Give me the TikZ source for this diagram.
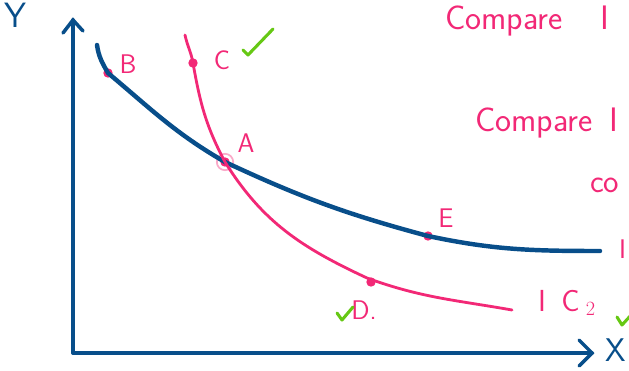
\documentclass[tikz,border=0pt]{standalone}
\usepackage{xcolor}
\usepackage{tikz}
\usetikzlibrary{arrows.meta}
\definecolor{inkblue}{RGB}{8,78,138}
\definecolor{inkpink}{RGB}{242,40,118}
\definecolor{inkgreen}{RGB}{102,200,20}

\begin{document}
\begin{tikzpicture}[x=0.03cm, y=-0.03cm,
  every node/.style={inner sep=0pt},
  axis/.style={inkblue, line width=3pt, line cap=round},
  icone/.style={inkblue, line width=3.8pt, line cap=round},
  ictwo/.style={inkpink, line width=2.4pt, line cap=round},
  dot/.style={circle, fill=inkpink, minimum size=8pt},
  lbl/.style={font=\sffamily\fontsize{23}{25}\selectfont, color=inkpink},
  note/.style={font=\sffamily\fontsize{29}{31}\selectfont, color=inkpink, anchor=base west},
  tick/.style={inkgreen, line width=2.6pt, line cap=round, line join=round}]
\useasboundingbox (0,0) rectangle (629,370);
\clip (0,0) rectangle (629,370);
% axes
\coordinate (O) at (73,353);
\coordinate (Ytop) at (73,20);
\coordinate (Xend) at (592,353);
\draw[axis] (O) -- (Ytop);
\draw[axis] (63,33) -- (Ytop) -- (83,31);
\draw[axis] (O) -- (Xend);
\draw[axis] (579,340) -- (Xend) -- (579,366);
\node[font=\sffamily\fontsize{28}{30}\selectfont, color=inkblue, anchor=east] (xlab) at (626,350) {X};
\node[font=\sffamily\fontsize{30}{32}\selectfont, color=inkblue, anchor=north west] (ylab) at (4,3) {Y};
% points
\node[dot] (A) at (225,162) {};
\node[dot] (B) at (108,73) {};
\node[dot] (C) at (193,63) {};
\node[dot] (D) at (371,282) {};
\node[dot] (E) at (428,236) {};
\draw[inkpink!40, line width=1.5pt] (A) circle (7pt);
\coordinate (Ione) at (97,45);
\coordinate (Ioneend) at (600,251);
\coordinate (Itwo) at (185,35);
\coordinate (Itwoend) at (512,310);
% indifference curves
\draw[icone] (Ione) to[out=-82, in=120] (B.center)
  to[out=-40, in=150] (A.center)
  to[out=-25, in=165] (E.center)
  to[out=-12, in=180] (Ioneend);
\draw[ictwo] (Itwo) to[out=-78, in=100] (C.center)
  to[out=-80, in=118] (A.center)
  to[out=-58, in=155] (367,278)
  to[out=-20, in=170] (Itwoend);
% labels
\node[lbl] (lB) at (128,64) {B};
\node[lbl] (lC) at (222,60) {C};
\node[lbl] (lA) at (246,143) {A};
\node[lbl] (lE) at (446,218) {E};
\node[lbl] (lD) at (364,310) {D.};
\node[lbl, anchor=west] (lIone) at (619,249) {I};
\node[lbl, anchor=west, font=\sffamily\fontsize{26}{28}\selectfont] (lItwo) at (538,303) {I\hspace{0.5em}C\hspace{0.2em}$_2$};
\draw[tick] (243,50) -- (248,55) -- (273,29);
\draw[tick] (337,313) -- (342,320) -- (353,307);
\draw[tick] (617,317) -- (622,325) -- (632,314);
% side notes
\node[note] (n1) at (445,30) {Compare\hspace{1.1em}I};
\node[note] (n2) at (475,131) {Compare\hspace{0.5em}I};
\node[note, font=\sffamily\fontsize{28}{30}\selectfont] (n3) at (590,192) {co};
\end{tikzpicture}
\end{document}
